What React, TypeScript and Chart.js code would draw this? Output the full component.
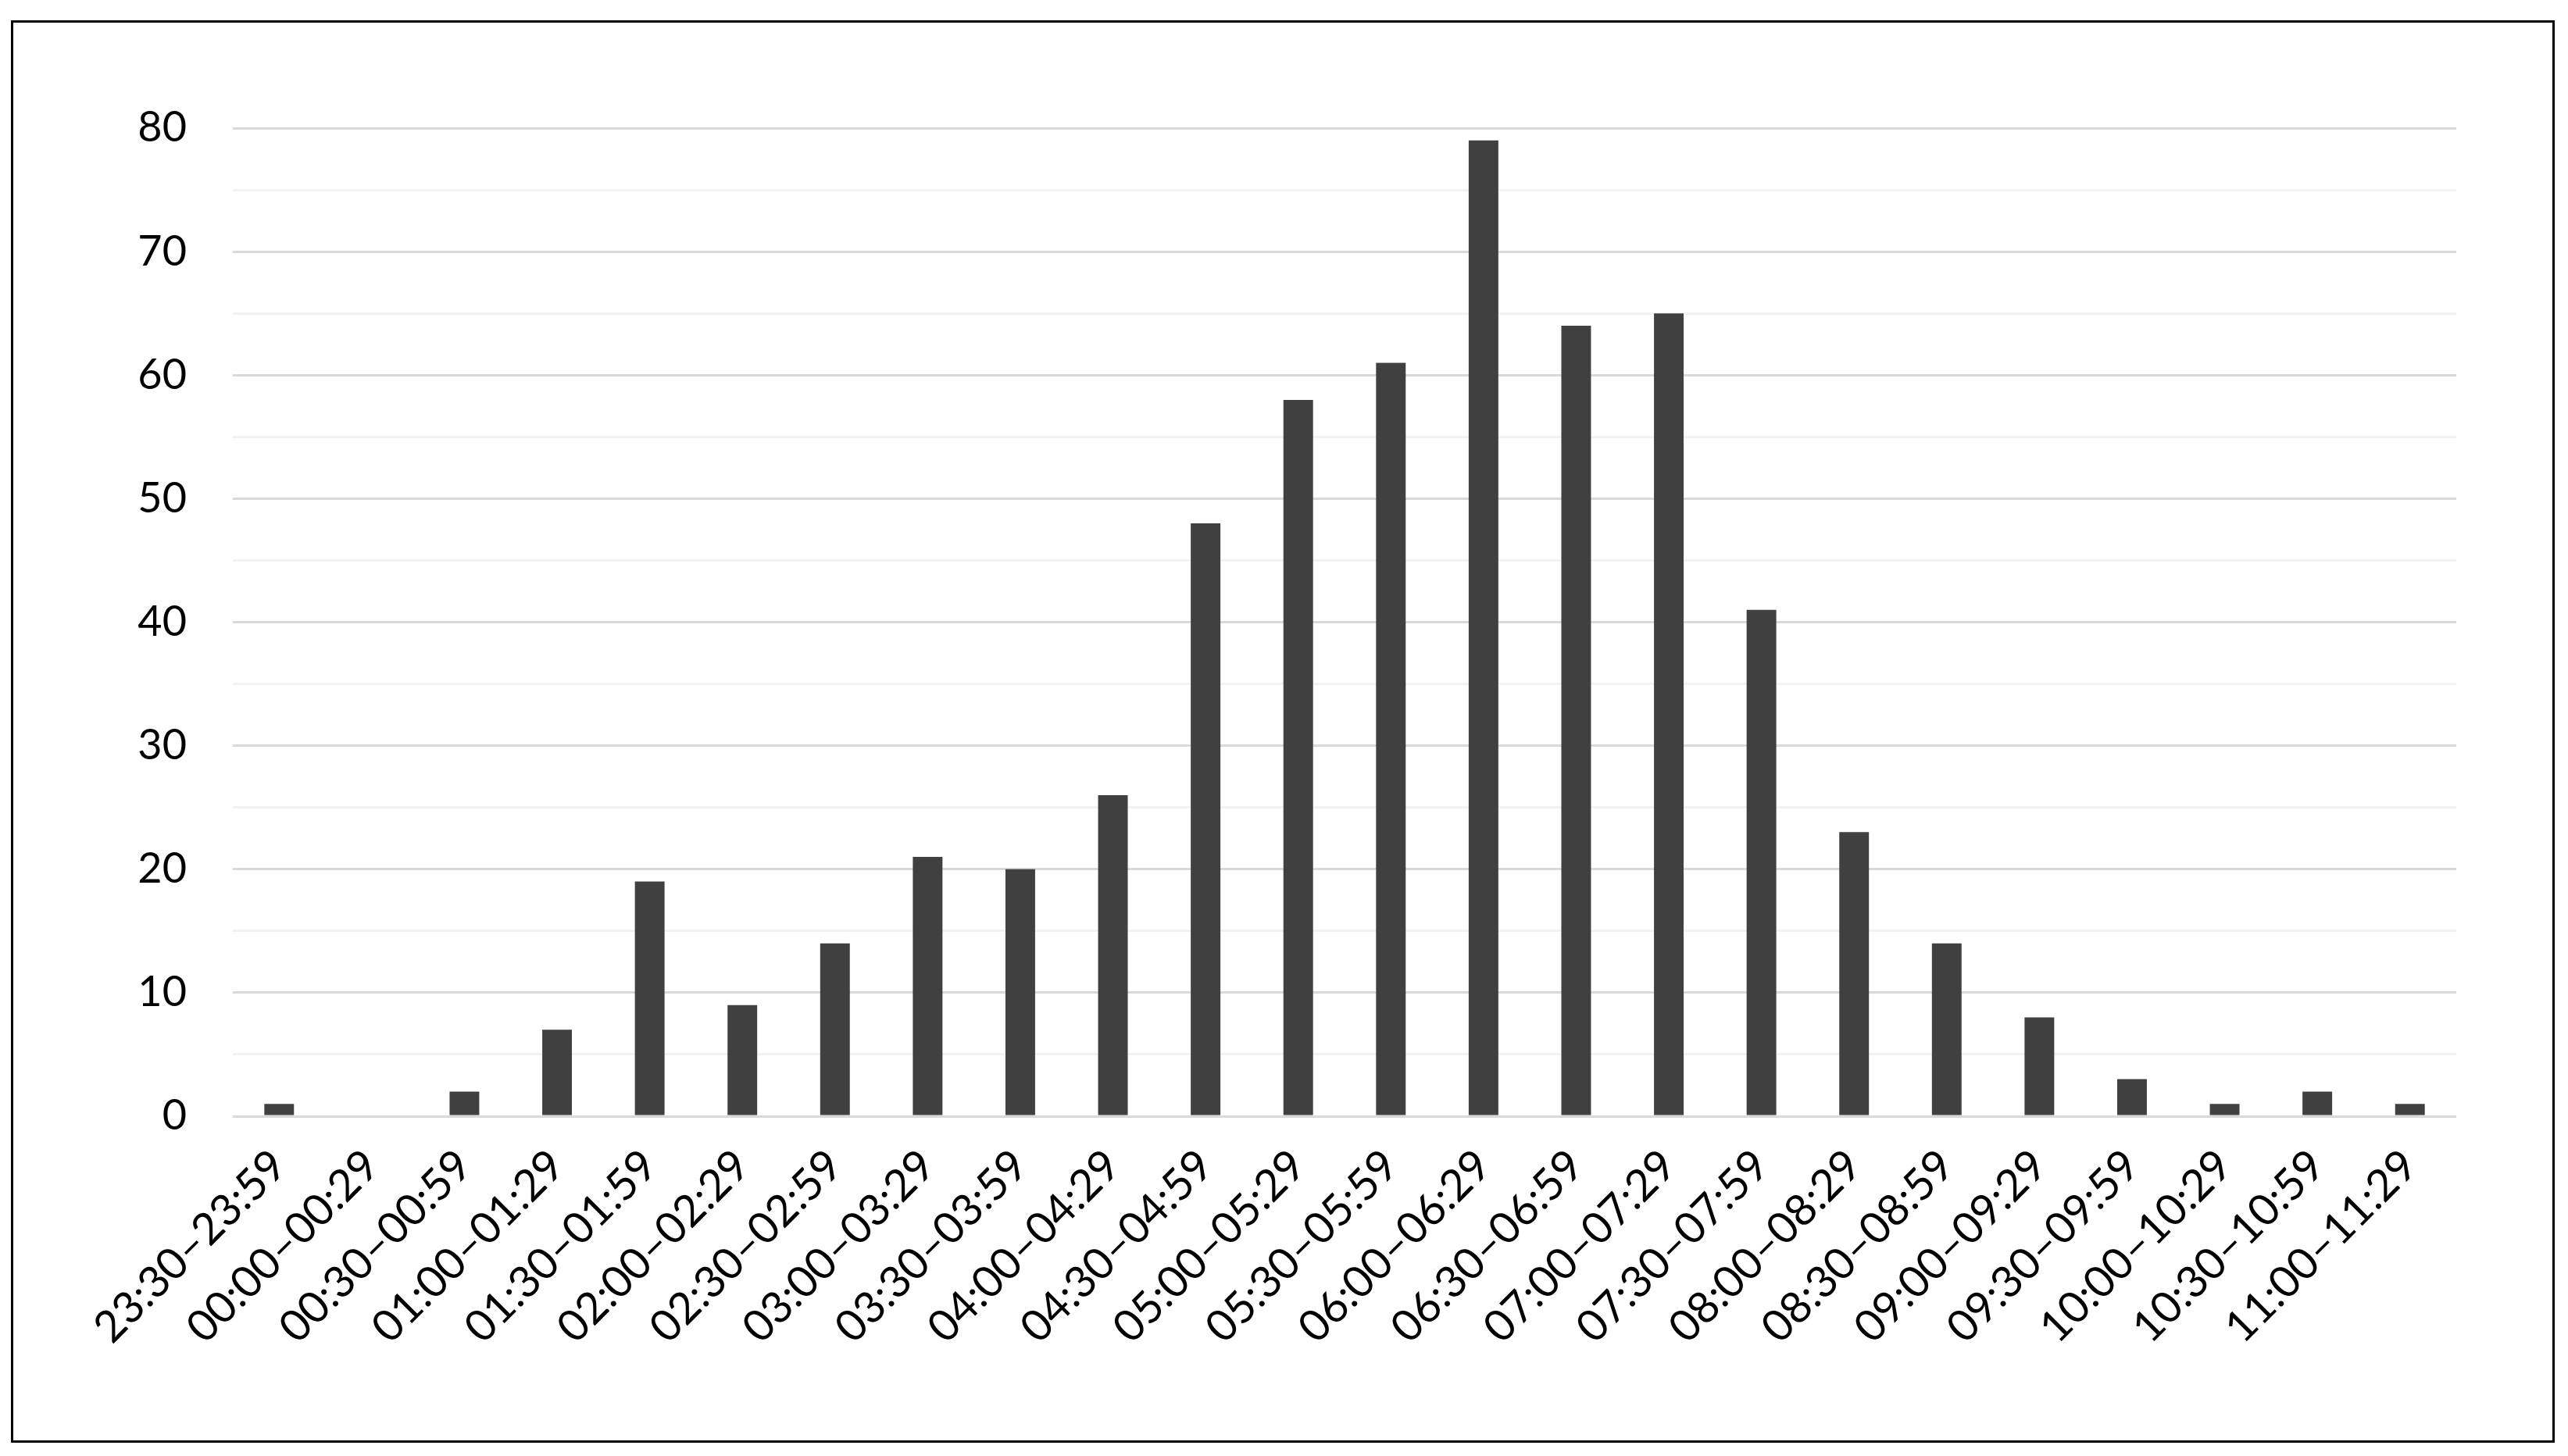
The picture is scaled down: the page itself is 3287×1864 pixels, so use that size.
import React, { useEffect, useRef } from "react";
import { Chart, registerables } from "chart.js";

Chart.register(...registerables);

const categories: string[] = [
  "23:30–23:59",
  "00:00–00:29",
  "00:30–00:59",
  "01:00–01:29",
  "01:30–01:59",
  "02:00–02:29",
  "02:30–02:59",
  "03:00–03:29",
  "03:30–03:59",
  "04:00–04:29",
  "04:30–04:59",
  "05:00–05:29",
  "05:30–05:59",
  "06:00–06:29",
  "06:30–06:59",
  "07:00–07:29",
  "07:30–07:59",
  "08:00–08:29",
  "08:30–08:59",
  "09:00–09:29",
  "09:30–09:59",
  "10:00–10:29",
  "10:30–10:59",
  "11:00–11:29",
];

const counts: number[] = [
  1, 0, 2, 7, 19, 9, 14, 21, 20, 26, 48, 58, 61, 79, 64, 65, 41, 23, 14, 8, 3, 1, 2, 1,
];

const yMin = 0;
const yMax = 80;
const yLabelStep = 10;
const yGridStep = 5;

export default function App() {
  const ref = useRef<HTMLCanvasElement>(null);

  useEffect(() => {
    if (!ref.current) return;
    const chart = new Chart(ref.current, {
      type: "bar",
      data: {
        labels: categories,
        datasets: [
          {
            data: counts,
            backgroundColor: "#404040",
            borderWidth: 0,
            barPercentage: 0.32,
            categoryPercentage: 1,
          },
        ],
      },
      options: {
        responsive: false,
        animation: false,
        devicePixelRatio: 1,
        layout: { padding: { top: 164, right: 143, left: 0, bottom: 0 } },
        plugins: { legend: { display: false }, tooltip: { enabled: false } },
        scales: {
          x: {
            grid: { display: false, drawTicks: false },
            border: { display: false },
            ticks: {
              autoSkip: false,
              maxRotation: 45,
              minRotation: 45,
              padding: 30,
              color: "#000",
              font: { family: "Lato", size: 56 },
            },
            afterFit: (s: any) => {
              s.height = 435;
            },
          },
          y: {
            min: yMin,
            max: yMax,
            grid: {
              color: (ctx: any) =>
                ctx.tick && ctx.tick.value % yLabelStep === 0 ? "#d9d9d9" : "#f2f2f2",
              lineWidth: 3,
              drawTicks: false,
            },
            border: { display: false },
            ticks: {
              stepSize: yGridStep,
              padding: 59,
              color: "#000",
              font: { family: "Lato", size: 54 },
              callback: (v: any) => (Number(v) % yLabelStep === 0 ? String(v) : ""),
            },
            afterFit: (s: any) => {
              s.width = 298;
            },
          },
        },
      },
    });
    return () => chart.destroy();
  }, []);

  return (
    <div
      style={{
        position: "fixed",
        left: 0,
        top: 0,
        width: 3287,
        height: 1864,
        background: "#fff",
      }}
    >
      <div
        style={{
          position: "absolute",
          left: 14,
          top: 26,
          width: 3256,
          height: 1821,
          boxSizing: "border-box",
          border: "3px solid #000",
        }}
      />
      <canvas
        ref={ref}
        width={3287}
        height={1864}
        style={{ position: "absolute", left: 0, top: 0, width: 3287, height: 1864 }}
      />
    </div>
  );
}
